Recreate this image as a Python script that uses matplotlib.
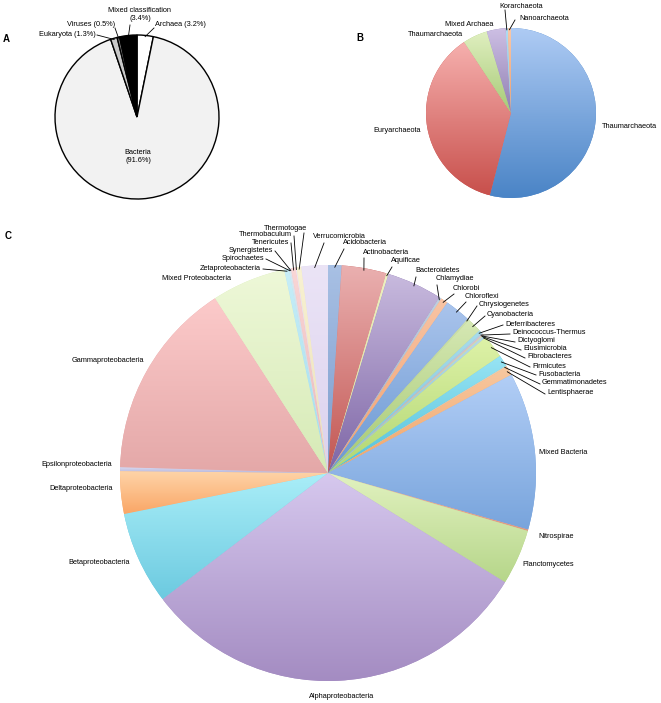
import numpy as np
import matplotlib
matplotlib.use('Agg')
import matplotlib.pyplot as plt
from matplotlib.colors import LinearSegmentedColormap

plt.rcParams['font.family'] = ['Liberation Sans', 'DejaVu Sans']

W, H = 661, 703
FS = 5.3

# ---------------- data ----------------
# A: domains, clockwise from 12 o'clock
a_names = ['Archaea (3.2%)', 'Bacteria\n(91.6%)', 'Eukaryota (1.3%)',
           'Viruses (0.5%)', 'Mixed classification\n(3.4%)']
a_values = [3.2, 91.6, 1.3, 0.5, 3.4]

# B: archaea
b_names = ['Thaumarchaeota', 'Euryarchaeota', 'Thaumarchaeota',
           'Mixed Archaea', 'Korarchaeota', 'Nanoarchaeota']
b_values = [54.0, 36.7, 4.7, 3.6, 0.4, 0.6]

# C: bacteria (percent)
c_names = ['Acidobacteria', 'Actinobacteria', 'Aquificae', 'Bacteroidetes',
           'Chlamydiae', 'Chlorobi', 'Chloroflexi', 'Chrysiogenetes',
           'Cyanobacteria', 'Deferribacteres', 'Deinococcus-Thermus',
           'Dictyoglomi', 'Elusimicrobia', 'Fibrobacteres', 'Firmicutes',
           'Fusobacteria', 'Gemmatimonadetes', 'Lentisphaerae',
           'Mixed Bacteria', 'Nitrospirae', 'Planctomycetes',
           'Alphaproteobacteria', 'Betaproteobacteria', 'Deltaproteobacteria',
           'Epsilonproteobacteria', 'Gammaproteobacteria',
           'Mixed Proteobacteria', 'Zetaproteobacteria', 'Spirochaetes',
           'Synergistetes', 'Tenericutes', 'Thermobaculum', 'Thermotogae',
           'Verrucomicrobia']
c_values = [1.05, 3.47, 0.17, 4.3, 0.17, 0.55, 2.0, 0.11, 1.15, 0.28, 0.11,
            0.06, 0.08, 0.17, 1.8, 0.9, 0.08, 0.7, 12.2, 0.11, 4.3, 30.8,
            7.2, 3.3, 0.3, 15.4, 5.75, 0.36, 0.08, 0.08, 0.36, 0.08, 0.36,
            2.05]

# ---------------- styles ----------------
a_colors = ['#ffffff', '#f2f2f2', '#c8c8c8', '#808080', '#000000']

b_top = ['#aecbf4', '#f6b0ae', '#e0efc0', '#cdbfe4', '#b0dcf2', '#f8c8a8']
b_bot = ['#4a84c6', '#c8504c', '#a6ca76', '#8f7fb2', '#8cc8e8', '#f0a070']

c_top = ['#a8c0e4', '#eab0b0', '#eef0c0', '#c8bade', '#c0d0e0', '#f8c4a4',
         '#aac4ec', '#d0e0b0', '#d6e8b4', '#a8dcec', '#c0d0e0', '#f0c0c0',
         '#d0e4c0', '#b8d8e8', '#def2a8', '#98e4f4', '#f0d0b0', '#f8c8a0',
         '#b2cef6', '#f4b8a0', '#e2f2c0', '#d6c8ee', '#aaeef8', '#fed4a8',
         '#d8d8f0', '#fccaca', '#eef8d8', '#c8eef8', '#d8ecf4', '#e0e8f0',
         '#fad6d6', '#f0e8f0', '#f8f2d2', '#ebe4f6']
c_bot = ['#7c9ccc', '#c25652', '#d8e0a0', '#7e66a6', '#9ab0c8', '#f0a070',
         '#6a98d2', '#a8c880', '#a4c872', '#78c4d8', '#98acc4', '#d89898',
         '#a8c890', '#88c0d8', '#b0d670', '#52c0d8', '#e0b090', '#f0a468',
         '#78a4dc', '#e09880', '#b6d68a', '#a48cc2', '#6ccae0', '#faa666',
         '#b8b8dc', '#e4a8a8', '#d6eab6', '#a0dcec', '#b8d8e8', '#c8d0e0',
         '#eab8b8', '#e0d0e0', '#ece0b8', '#dcd2ee']

# label layout for C: (x, y, ha, line) in pixels from top-left
c_lab = {
    'Acidobacteria': (343, 243, 'left', 'a'),
    'Actinobacteria': (363, 252, 'left', 'a'),
    'Aquificae': (391, 261, 'left', 'a'),
    'Bacteroidetes': (415, 271, 'left', 'a'),
    'Chlamydiae': (436, 279, 'left', 'a'),
    'Chlorobi': (453, 288, 'left', 'a'),
    'Chloroflexi': (465, 296, 'left', 'a'),
    'Chrysiogenetes': (479, 305, 'left', 'b'),
    'Cyanobacteria': (487, 315, 'left', 'b'),
    'Deferribacteres': (505, 324, 'left', 'b'),
    'Deinococcus-Thermus': (512, 333, 'left', 'b'),
    'Dictyoglomi': (517, 341, 'left', 'b'),
    'Elusimicrobia': (523, 349, 'left', 'b'),
    'Fibrobacteres': (527, 357, 'left', 'b'),
    'Firmicutes': (532, 366, 'left', 'b'),
    'Fusobacteria': (538, 374, 'left', 'b'),
    'Gemmatimonadetes': (542, 383, 'left', 'b'),
    'Lentisphaerae': (547, 393, 'left', 'b'),
    'Mixed Bacteria': (539, 452, 'left', None),
    'Nitrospirae': (538, 537, 'left', None),
    'Planctomycetes': (522, 565, 'left', None),
    'Alphaproteobacteria': (342, 696, 'center', None),
    'Betaproteobacteria': (130, 563, 'right', None),
    'Deltaproteobacteria': (113, 489, 'right', None),
    'Epsilonproteobacteria': (112, 465, 'right', None),
    'Gammaproteobacteria': (144, 361, 'right', None),
    'Mixed Proteobacteria': (231, 278, 'right', None),
    'Zetaproteobacteria': (261, 268, 'right', 'r'),
    'Spirochaetes': (264, 258, 'right', 'r'),
    'Synergistetes': (273, 250, 'right', 'r'),
    'Tenericutes': (289, 242, 'right', 'r'),
    'Thermobaculum': (292, 235, 'right', 'r'),
    'Thermotogae': (285, 228, 'center', (304, 233)),
    'Verrucomicrobia': (339, 237, 'center', (324, 243)),
}


def Y(y):
    return H - y


def grad_pie(ax, values, center, radius, tops, bots):
    wedges, _ = ax.pie(values, center=center, radius=radius, startangle=90,
                       counterclock=False, colors=bots,
                       wedgeprops=dict(linewidth=0))
    g = np.linspace(0, 1, 128).reshape(-1, 1)
    for w, t, b in zip(wedges, tops, bots):
        th = np.radians(np.linspace(w.theta1, w.theta2, 60))
        xs = np.r_[center[0], center[0] + radius * np.cos(th)]
        ys = np.r_[center[1], center[1] + radius * np.sin(th)]
        cm = LinearSegmentedColormap.from_list('g', [b, t])
        im = ax.imshow(g, extent=[xs.min(), xs.max(), ys.min(), ys.max()],
                       origin='lower', cmap=cm, aspect='auto',
                       interpolation='bilinear', zorder=w.get_zorder() + 0.1)
        im.set_clip_path(w)
    return wedges


def edge_pt(w, center, radius, f=0.99):
    a = np.radians((w.theta1 + w.theta2) / 2)
    return center[0] + f * radius * np.cos(a), center[1] + f * radius * np.sin(a)


fig = plt.figure(figsize=(W / 100, H / 100), dpi=100)
ax = fig.add_axes([0, 0, 1, 1])

# ---------------- A ----------------
ca, ra = (137, Y(117)), 82
wa, _ = ax.pie(a_values, center=ca, radius=ra, startangle=90, counterclock=False,
               colors=a_colors, wedgeprops=dict(edgecolor='black', linewidth=1.0))
a_lab = [(155, 25, 'left', (154, 28)), (138, 157, 'center', None),
         (96, 34, 'right', (97, 35)), (115, 24, 'right', (115, 28)),
         (140, 15, 'center', (130, 25))]
for w, n, (x, y, ha, st) in zip(wa, a_names, a_lab):
    ax.text(x, Y(y), n, ha=ha, va='center', fontsize=FS, linespacing=1.2)
    if st is not None:
        ex, ey = edge_pt(w, ca, ra, 0.985)
        ax.plot([st[0], ex], [Y(st[1]), ey], color='black', lw=0.6, zorder=5)
ax.text(6, Y(39), 'A', fontsize=7, fontweight='bold', ha='center', va='center')

# ---------------- B ----------------
cb, rb = (511, Y(113)), 85
wb = grad_pie(ax, b_values, cb, rb, b_top, b_bot)
b_lab = [(602, 127, 'left', None), (421, 130, 'right', None),
         (463, 35, 'right', None), (493, 24, 'right', None),
         (521, 6, 'center', (505, 10)), (519, 18, 'left', (515, 20))]
for w, n, (x, y, ha, st) in zip(wb, b_names, b_lab):
    ax.text(x, Y(y), n, ha=ha, va='center', fontsize=FS)
    if st is not None:
        ex, ey = edge_pt(w, cb, rb, 0.98)
        ax.plot([st[0], ex], [Y(st[1]), ey], color='black', lw=0.6, zorder=5)
ax.text(360, Y(38), 'B', fontsize=7, fontweight='bold', ha='center', va='center')

# ---------------- C ----------------
cc, rc = (328, Y(473)), 208
wc = grad_pie(ax, c_values, cc, rc, c_top, c_bot)
for w, n in zip(wc, c_names):
    x, y, ha, ln = c_lab[n]
    ax.text(x, Y(y), n, ha=ha, va='center', fontsize=FS)
    if ln is None:
        continue
    if ln == 'a':
        st = (x + 1, y + 6)
    elif ln == 'b':
        st = (x - 2, y + 1)
    elif ln == 'r':
        st = (x + 2, y + 1)
    else:
        st = ln
    ex, ey = edge_pt(w, cc, rc, 0.99)
    ax.plot([st[0], ex], [Y(st[1]), ey], color='black', lw=0.6, zorder=5)
ax.text(8, Y(236), 'C', fontsize=7, fontweight='bold', ha='center', va='center')

ax.set_xlim(0, W)
ax.set_ylim(0, H)
ax.set_aspect('equal')
ax.axis('off')
fig.savefig('out.png', dpi=100)
